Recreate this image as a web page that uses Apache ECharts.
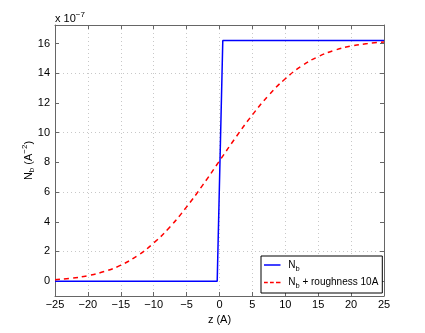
<!DOCTYPE html>
<html>
<head>
<meta charset="utf-8">
<script src="https://cdn.jsdelivr.net/npm/echarts@6/dist/echarts.min.js"></script>
<style>
  html, body { margin: 0; padding: 0; background: #fff; }
  #chart { width: 425px; height: 333px; }
</style>
</head>
<body>
<div id="chart"></div>
<script>
// values in units of 1e-7 A^-2
const zStep = [-25, -0.35, 0.5, 25];
const nbStep = [0, 0, 16.2, 16.2];

const zRough = [-25, -22.5, -20, -17.5, -15, -12.5, -10, -7.5, -5, -2.5, 0,
  2.5, 5, 7.5, 10, 12.5, 15, 17.5, 20, 22.5, 25];
const nbRough = [0.1, 0.2, 0.37, 0.65, 1.08, 1.71, 2.57, 3.67, 5.0, 6.5, 8.1,
  9.7, 11.2, 12.53, 13.63, 14.49, 15.12, 15.55, 15.83, 16.0, 16.1];

const yTicks = [0, 2, 4, 6, 8, 10, 12, 14, 16];

const font = 'Liberation Sans, Arial, sans-serif';
const axisColor = '#666';
const gridColor = '#c8c8c8';

const chart = echarts.init(document.getElementById('chart'));

const pairs = (xs, ys) => xs.map((x, i) => [x, ys[i]]);

const baseX = {
  type: 'value', min: -25, max: 25, interval: 5,
  axisLine: { onZero: false, lineStyle: { color: axisColor, width: 1 } },
  axisTick: { inside: true, length: 4, lineStyle: { color: axisColor } },
};
// interval 1 from min -1: only every other line (the even values) is drawn
const baseY = {
  type: 'value', min: -1, max: 17.25, interval: 1,
  axisLine: { show: true, onZero: false, lineStyle: { color: axisColor, width: 1 } },
  axisTick: { show: true, inside: true, length: 4, customValues: yTicks, lineStyle: { color: axisColor } },
};

chart.setOption({
  animation: false,
  grid: { left: 55, right: 41, top: 25, bottom: 37 },
  xAxis: [
    Object.assign({}, baseX, {
      position: 'bottom',
      name: 'z (A)', nameLocation: 'middle', nameGap: 14,
      nameTextStyle: { fontFamily: font, fontSize: 11, color: '#000' },
      axisLabel: { fontFamily: font, fontSize: 11, color: '#000', margin: 3,
        formatter: v => (v < 0 ? '\u2212' + (-v) : '' + v) },
      splitLine: { show: true, lineStyle: { color: gridColor, type: [1, 3] } },
    }),
    Object.assign({}, baseX, {
      position: 'top', axisLabel: { show: false }, splitLine: { show: false },
    }),
  ],
  yAxis: [
    Object.assign({}, baseY, {
      position: 'left',
      name: 'N{sub|b} (A{sup|\u22122})', nameLocation: 'middle', nameGap: 19,
      nameMoveOverlap: false,
      nameTextStyle: {
        fontFamily: font, fontSize: 11, color: '#000',
        rich: {
          sub: { fontFamily: font, fontSize: 8, color: '#000', padding: [7, 0, 0, 0] },
          sup: { fontFamily: font, fontSize: 8, color: '#000', padding: [0, 0, 7, 0] },
        },
      },
      axisLabel: { fontFamily: font, fontSize: 11, color: '#000', margin: 5, customValues: yTicks },
      splitLine: { show: true, lineStyle: { color: ['rgba(0,0,0,0)', gridColor], type: [1, 3] } },
    }),
    Object.assign({}, baseY, {
      position: 'right', axisLabel: { show: false }, splitLine: { show: false },
    }),
  ],
  legend: {
    orient: 'vertical', left: 261, top: 256,
    backgroundColor: '#fff', borderColor: '#000', borderWidth: 1,
    padding: [4, 4, 3, 3], itemGap: 5, itemWidth: 22, itemHeight: 1.5,
    textStyle: {
      fontFamily: font, fontSize: 10, color: '#000',
      rich: { sub: { fontFamily: font, fontSize: 7.5, color: '#000', padding: [7, 0, 0, 0] } },
    },
    formatter: name => name === 'Nb' ? 'N{sub|b}' : 'N{sub|b} + roughness 10A',
    data: [
      { name: 'Nb', icon: 'path://M0,0h22v2h-22z' },
      { name: 'Nb + roughness 10A', icon: 'path://M0,0h5v2h-5z M8,0h5v2h-5z M16,0h6v2h-6z' },
    ],
  },
  graphic: [{
    type: 'text', left: 55, top: 11,
    style: {
      text: 'x 10{sup|\u22127}', fill: '#000', font: '11px ' + font,
      rich: { sup: { fontSize: 8, fontFamily: font, fill: '#000', padding: [0, 0, 7, 0] } },
    },
  }],
  series: [
    {
      name: 'Nb', type: 'line', symbol: 'none',
      data: pairs(zStep, nbStep),
      lineStyle: { color: '#0000ff', width: 1.5 }, itemStyle: { color: '#0000ff' },
    },
    {
      name: 'Nb + roughness 10A', type: 'line', symbol: 'none', smooth: 0.5,
      data: pairs(zRough, nbRough),
      lineStyle: { color: '#ff0000', width: 1.5, type: [5, 4] }, itemStyle: { color: '#ff0000' },
    },
  ],
});
</script>
</body>
</html>
